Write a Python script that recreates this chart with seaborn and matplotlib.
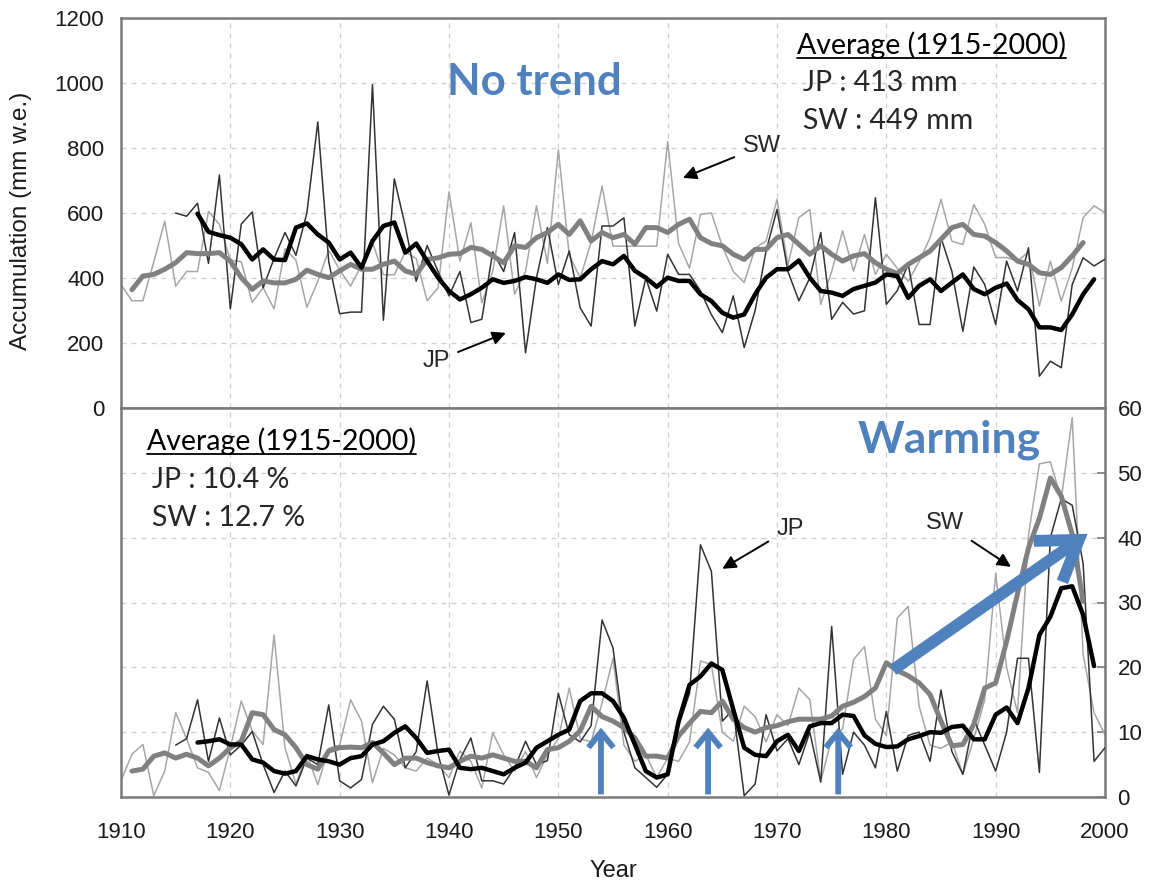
import numpy as np
import pandas as pd
import matplotlib
matplotlib.use("Agg")
import matplotlib.pyplot as plt
import seaborn as sns
from matplotlib.lines import Line2D

# ---------------- data ----------------
# Top panel: annual accumulation (mm w.e.)
years_sw_annual = list(range(1910, 2001))
top_sw_annual = [380, 330, 330, 450, 575, 375, 420, 420, 605, 565,
                 455, 450, 325, 370, 305, 490, 455, 310, 390, 485,
                 425, 375, 440, 510, 410, 410, 480, 460, 330, 370,
                 665, 452, 570, 324, 420, 622, 350, 420, 622, 445,
                 795, 470, 400, 510, 683, 498, 498, 498, 498, 498,
                 820, 506, 430, 596, 600, 498, 420, 386, 492, 514,
                 642, 440, 586, 611, 319, 420, 545, 421, 534, 411,
                 473, 430, 390, 450, 524, 642, 513, 503, 626, 565,
                 463, 463, 452, 480, 314, 452, 329, 430, 586, 622,
                 601]
years_jp_annual = list(range(1915, 2001))
top_jp_annual = [600, 590, 630, 445, 717,
                 305, 566, 603, 370, 460, 540, 470, 600, 880, 450,
                 290, 295, 295, 995, 270, 705, 560, 390, 500, 420,
                 345, 420, 263, 273, 480, 420, 540, 170, 400, 555,
                 380, 483, 308, 252, 560, 560, 585, 252, 400, 298,
                 473, 411, 411, 360, 287, 232, 345, 186, 300, 483,
                 611, 420, 330, 400, 540, 273, 325, 289, 299, 647,
                 319, 361, 443, 257, 257, 524, 420, 236, 434, 380,
                 257, 452, 360, 493, 98, 144, 124, 380, 462, 437,
                 458]
# Top panel: 5-yr running means
years_jp_mean = list(range(1917, 2000))
top_jp_mean = [598, 542, 532,
               524, 504, 457, 488, 457, 455, 555, 568, 534, 509,
               457, 478, 432, 514, 560, 571, 478, 506, 452, 401,
               360, 334, 350, 370, 396, 385, 391, 403, 396, 385,
               411, 394, 396, 427, 452, 442, 468, 422, 401, 373,
               401, 391, 391, 350, 329, 293, 278, 288, 350, 401,
               427, 427, 454, 401, 360, 355, 345, 366, 376, 386,
               411, 406, 339, 376, 396, 360, 386, 411, 366, 350,
               370, 383, 332, 304, 248, 248, 240, 288, 350, 396]
years_sw_mean = list(range(1911, 1999))
top_sw_mean = [364, 406, 411, 427, 447, 478, 475, 475, 478,
               452, 401, 365, 391, 385, 385, 396, 424, 411, 401,
               422, 442, 427, 427, 442, 452, 422, 411, 457, 462,
               473, 475, 494, 488, 468, 447, 499, 494, 524, 540,
               565, 534, 576, 514, 540, 524, 534, 504, 555, 555,
               540, 565, 581, 524, 506, 499, 473, 457, 488, 488,
               524, 534, 504, 473, 499, 473, 452, 468, 475, 447,
               427, 414, 442, 462, 483, 519, 555, 565, 534, 529,
               509, 483, 452, 442, 416, 411, 432, 468, 509]

# Bottom panel: annual melt (%)
bot_sw_annual = [2.5, 6.6, 8.1, 0.2, 4.0, 13.0, 9.0, 4.5, 3.8, 1.0,
                 7.6, 14.8, 10.2, 8.1, 25.0, 7.6, 2.0, 6.6, 1.9, 7.5,
                 8.0, 15.0, 11.7, 2.2, 7.5, 6.5, 4.5, 4.0, 6.0, 5.0,
                 3.0, 7.1, 5.5, 1.4, 9.9, 6.5, 4.0, 7.0, 3.0, 6.5,
                 9.0, 16.8, 9.0, 8.5, 14.5, 21.4, 8.0, 5.5, 6.5, 3.0,
                 6.0, 5.5, 8.5, 21.0, 20.4, 10.0, 8.6, 14.0, 12.4, 8.5,
                 12.7, 11.0, 16.8, 15.0, 2.4, 9.0, 10.5, 21.2, 23.2, 12.0,
                 9.5, 27.6, 29.4, 14.0, 8.0, 7.5, 8.5, 3.5, 9.0, 15.0,
                 34.5, 20.0, 13.0, 40.4, 51.4, 51.7, 46.0, 58.5, 22.0, 13.0,
                 9.6]
bot_jp_annual = [8.0, 9.0, 15.0, 5.5, 12.2,
                 6.5, 8.0, 10.1, 5.0, 0.7, 4.0, 1.7, 6.0, 5.0, 14.2,
                 2.5, 1.4, 2.7, 11.2, 14.0, 12.0, 4.5, 7.0, 17.9, 6.6,
                 0.3, 5.8, 9.1, 2.5, 2.5, 2.0, 4.5, 8.6, 5.0, 5.6,
                 16.0, 9.6, 8.5, 11.0, 27.3, 23.0, 10.0, 4.5, 3.0, 1.5,
                 3.5, 11.0, 16.0, 38.9, 34.8, 11.7, 13.5, 0.2, 2.0, 12.7,
                 7.1, 9.0, 5.0, 10.0, 2.3, 26.3, 3.5, 10.0, 8.0, 4.5,
                 13.2, 4.0, 9.5, 10.0, 5.5, 16.5, 7.0, 3.5, 12.0, 8.0,
                 4.0, 10.0, 21.4, 21.4, 3.8, 40.0, 46.0, 45.0, 36.0, 5.5,
                 7.6]
bot_jp_mean = [8.4, 8.6, 8.9,
               8.1, 8.1, 5.8, 5.3, 4.0, 3.6, 4.0, 6.3, 5.8, 5.5,
               5.0, 6.0, 6.3, 8.1, 8.6, 9.9, 10.9, 9.1, 6.8, 7.1,
               7.3, 4.5, 4.3, 4.5, 4.0, 3.5, 4.5, 5.3, 7.6, 8.6,
               9.6, 10.4, 14.8, 16.0, 16.0, 14.8, 12.2, 8.1, 4.0, 3.0,
               3.5, 11.7, 17.3, 18.6, 20.6, 19.6, 13.5, 7.6, 6.5, 6.3,
               8.6, 9.6, 7.1, 10.9, 11.4, 11.4, 12.7, 12.5, 9.5, 8.2,
               7.7, 7.8, 8.9, 9.4, 10.0, 9.9, 10.8, 11.0, 8.9, 8.9,
               12.7, 13.8, 11.4, 16.8, 25.0, 27.8, 32.2, 32.5, 28.1, 20.2]
bot_sw_mean = [4.0, 4.3, 6.3, 6.8, 6.0, 6.6, 6.0, 4.8, 6.0,
               7.6, 8.6, 13.0, 12.7, 10.4, 9.6, 7.6, 5.0, 4.3, 7.1,
               7.6, 7.7, 7.6, 8.4, 6.8, 5.0, 6.0, 6.0, 5.3, 4.8,
               4.5, 5.5, 6.3, 6.0, 6.5, 6.0, 5.5, 5.5, 4.5, 7.3,
               7.6, 8.6, 10.2, 14.0, 12.4, 11.7, 10.7, 9.1, 6.3, 6.3,
               6.0, 9.4, 11.4, 13.2, 13.0, 14.8, 12.0, 10.7, 10.0, 10.7,
               11.0, 11.6, 12.0, 12.0, 12.0, 12.5, 14.0, 14.6, 15.5, 16.8,
               20.7, 19.5, 18.7, 17.6, 15.8, 11.7, 7.9, 8.1, 11.2, 16.8,
               17.6, 24.0, 31.4, 38.4, 43.0, 49.2, 46.4, 40.5, 30.2]

x_ticks = list(range(1910, 2001, 10))
top_y_ticks = list(range(0, 1201, 200))
bot_y_ticks = list(range(0, 61, 10))

# ---------------- style ----------------
sns.set_style("white")
plt.rcParams['font.family'] = ['Liberation Sans', 'DejaVu Sans']

W, H = 1153, 883
fig = plt.figure(figsize=(W / 100, H / 100), dpi=100)

def fx(px):
    return px / W

def fy(py):
    return 1 - py / H

ax1 = fig.add_axes([fx(121), fy(408), fx(1105) - fx(121), fy(18) - fy(408)])
ax2 = fig.add_axes([fx(121), fy(797), fx(1105) - fx(121), fy(408) - fy(797)])

c_sw_thin = '#a6a6a6'
c_jp_thin = '#333333'
c_sw_thick = '#808080'
c_jp_thick = '#000000'
blue = '#4f81bd'

def draw_panel(ax, sw_a, jp_a, sw_m, jp_m):
    sns.lineplot(x=years_sw_annual, y=sw_a, ax=ax, color=c_sw_thin, linewidth=1.1, zorder=2)
    sns.lineplot(x=years_jp_annual, y=jp_a, ax=ax, color=c_jp_thin, linewidth=1.1, zorder=3)
    sns.lineplot(x=years_sw_mean, y=sw_m, ax=ax, color=c_sw_thick, linewidth=3.6, zorder=4)
    sns.lineplot(x=years_jp_mean, y=jp_m, ax=ax, color=c_jp_thick, linewidth=3.2, zorder=5)

draw_panel(ax1, top_sw_annual, top_jp_annual, top_sw_mean, top_jp_mean)
draw_panel(ax2, bot_sw_annual, bot_jp_annual, bot_sw_mean, bot_jp_mean)

for ax in (ax1, ax2):
    ax.set_xlim(1910, 2000)
    ax.set_xticks(x_ticks)
    ax.grid(True, linestyle=(0, (4, 4)), color='#cfcfcf', linewidth=0.9)
    ax.set_axisbelow(True)
    for s in ax.spines.values():
        s.set_color('#7a7a7a')
        s.set_linewidth(1.8)
    ax.tick_params(direction='in', length=6, width=1.2, color='#7a7a7a',
                   labelsize=16, labelcolor='#1a1a1a')

ax1.set_ylim(0, 1200)
ax1.set_yticks(top_y_ticks)
ax1.tick_params(axis='x', labelbottom=False)
ax1.tick_params(axis='y', pad=12)
ax1.set_ylabel("Accumulation (mm w.e.)", fontsize=17.5, color='#1a1a1a')
ax1.yaxis.set_label_coords(-0.09, 0.48)
ax1.set_xlabel("")

ax2.set_ylim(0, 60)
ax2.set_yticks(bot_y_ticks)
ax2.yaxis.tick_right()
ax2.tick_params(axis='y', left=False, right=True, labelleft=False, labelright=True, pad=9)
ax2.tick_params(axis='x', pad=18)
ax2.set_xlabel("Year", fontsize=17, color='#1a1a1a', labelpad=12)
ax2.set_ylabel("")

# ---------------- annotations ----------------
arrow_k = dict(arrowstyle='-|>', color='black', lw=1.4, mutation_scale=20,
               shrinkA=4, shrinkB=0)
ax1.annotate("SW", xy=(1961.4, 708), xytext=(1968.6, 806), fontsize=17,
             ha='center', va='center', arrowprops=arrow_k)
ax1.annotate("JP", xy=(1945.2, 231), xytext=(1938.8, 145), fontsize=17,
             ha='center', va='center', arrowprops=arrow_k)
ax2.annotate("JP", xy=(1965.0, 35.2), xytext=(1971.2, 41.4), fontsize=17,
             ha='center', va='center', arrowprops=arrow_k)
ax2.annotate("SW", xy=(1991.4, 35.5), xytext=(1985.4, 42.2), fontsize=17,
             ha='center', va='center', arrowprops=arrow_k)

# blue arrows
for yr in (1953.9, 1963.7, 1975.6):
    ax2.annotate("", xy=(yr, 10.7), xytext=(yr, 0.4),
                 arrowprops=dict(arrowstyle='->,head_length=0.55,head_width=0.45',
                                 color=blue, lw=4.2, mutation_scale=20,
                                 shrinkA=0, shrinkB=0, capstyle='butt', joinstyle='miter'),
                 zorder=8)
ax2.annotate("", xy=(1998.4, 40.6), xytext=(1980.6, 19.6),
             arrowprops=dict(arrowstyle='->,head_length=0.9,head_width=0.6',
                             color=blue, lw=8.5, mutation_scale=30,
                             shrinkA=0, shrinkB=0, capstyle='butt', joinstyle='miter'),
             zorder=8)

# texts (Calibri-like)
tfont = ['Lato', 'DejaVu Sans']
fig.text(fx(447), fy(82), "No trend", fontsize=31.5, fontweight='bold', color=blue,
         family=tfont, ha='left', va='center')
fig.text(fx(858), fy(440), "Warming", fontsize=32, fontweight='bold', color=blue,
         family=tfont, ha='left', va='center')

tsz = 20.5
t1 = fig.text(fx(797), fy(45), "Average (1915-2000)", fontsize=tsz, family=tfont,
              ha='left', va='center', color='black')
fig.text(fx(803), fy(83), "JP : 413 mm", fontsize=tsz, family=tfont, ha='left', va='center')
fig.text(fx(803), fy(121), "SW : 449 mm", fontsize=tsz, family=tfont, ha='left', va='center')

t2 = fig.text(fx(147), fy(441), "Average (1915-2000)", fontsize=tsz, family=tfont,
              ha='left', va='center', color='black')
fig.text(fx(152), fy(480), "JP : 10.4 %", fontsize=tsz, family=tfont, ha='left', va='center')
fig.text(fx(152), fy(518), "SW : 12.7 %", fontsize=tsz, family=tfont, ha='left', va='center')

# underline the "Average" headings
fig.canvas.draw()
rend = fig.canvas.get_renderer()
for t in (t1, t2):
    bb = t.get_window_extent(rend)
    yline = (bb.y0 + 1) / H
    fig.add_artist(Line2D([bb.x0 / W, bb.x1 / W], [yline, yline], color='black', lw=1.3))

fig.savefig("out.png", dpi=100)
